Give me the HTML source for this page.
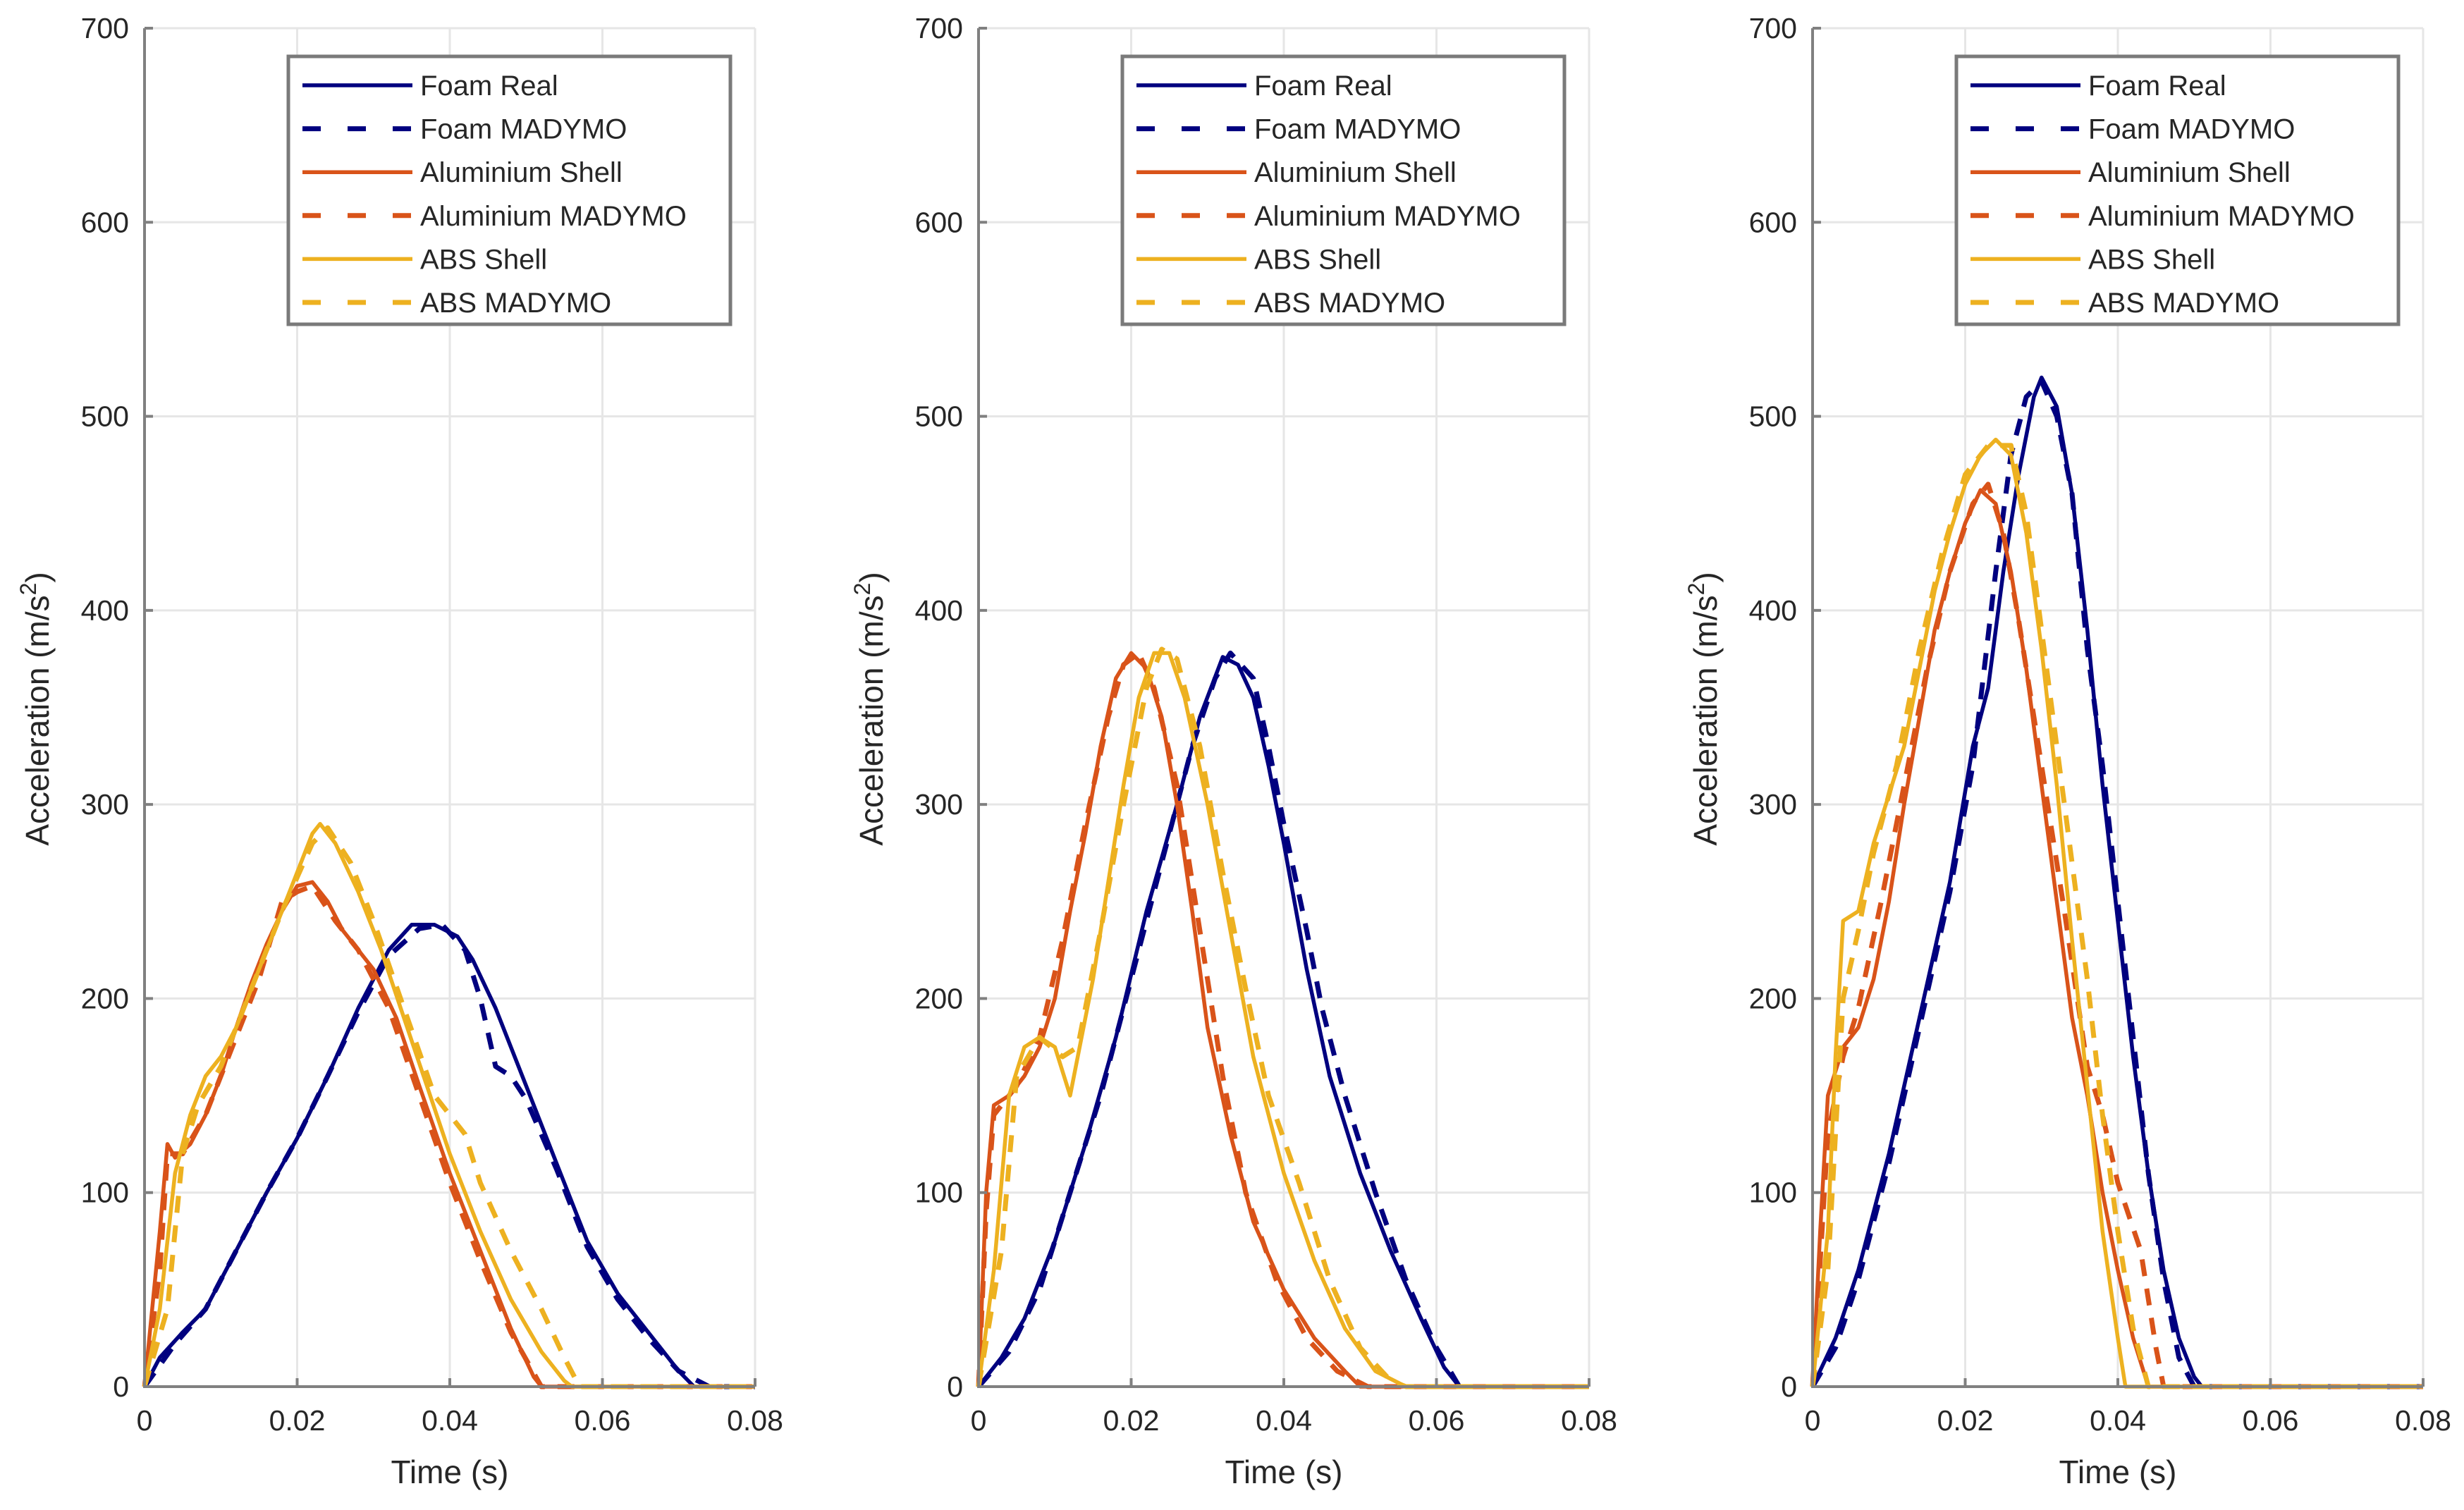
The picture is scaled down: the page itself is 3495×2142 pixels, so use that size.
<!DOCTYPE html>
<html><head><meta charset="utf-8"><style>
html,body{margin:0;padding:0;background:#fff;}
svg{display:block;font-family:"Liberation Sans",sans-serif;}
</style></head><body>
<svg id="chart" width="3495" height="2142" viewBox="0 0 3495 2142" xmlns="http://www.w3.org/2000/svg"></svg>
<script>
const xTicks = [0, 0.02, 0.04, 0.06, 0.08];
const xTickLabels = ["0", "0.02", "0.04", "0.06", "0.08"];
const yTicks = [0, 100, 200, 300, 400, 500, 600, 700];
const seriesNames = ["Foam Real", "Foam MADYMO", "Aluminium Shell", "Aluminium MADYMO", "ABS Shell", "ABS MADYMO"];
const seriesColors = ["#00007f", "#00007f", "#d95319", "#d95319", "#edb120", "#edb120"];
const seriesDashed = [false, true, false, true, false, true];

const p1FoamReal = [[0,0],[0.002,15],[0.005,28],[0.008,40],[0.012,70],[0.016,100],[0.02,128],[0.024,160],[0.028,195],[0.032,225],[0.035,238],[0.038,238],[0.041,232],[0.043,220],[0.046,195],[0.05,155],[0.054,115],[0.058,75],[0.062,48],[0.066,28],[0.07,8],[0.072,0],[0.08,0]];
const p1FoamMad = [[0,0],[0.004,22],[0.008,40],[0.012,70],[0.016,100],[0.02,128],[0.024,160],[0.028,193],[0.032,222],[0.036,236],[0.039,238],[0.042,225],[0.044,200],[0.046,165],[0.048,160],[0.05,148],[0.054,112],[0.058,72],[0.062,45],[0.066,25],[0.07,8],[0.074,0],[0.08,0]];
const p1AlShell = [[0,0],[0.002,80],[0.003,125],[0.004,118],[0.006,125],[0.008,140],[0.01,160],[0.012,185],[0.014,208],[0.016,228],[0.018,245],[0.02,258],[0.022,260],[0.024,250],[0.026,235],[0.028,225],[0.03,215],[0.033,190],[0.036,155],[0.04,110],[0.044,70],[0.048,30],[0.051,5],[0.052,0],[0.08,0]];
const p1AlMad = [[0,0],[0.002,60],[0.003,120],[0.005,120],[0.008,140],[0.012,180],[0.015,210],[0.018,250],[0.02,255],[0.022,258],[0.025,240],[0.028,225],[0.032,195],[0.036,150],[0.04,105],[0.044,65],[0.048,28],[0.052,0],[0.08,0]];
const p1AbsShell = [[0,0],[0.002,40],[0.004,110],[0.006,140],[0.008,160],[0.01,170],[0.012,185],[0.014,205],[0.016,225],[0.018,245],[0.02,265],[0.022,285],[0.023,290],[0.025,280],[0.028,255],[0.031,225],[0.034,190],[0.037,155],[0.04,120],[0.044,80],[0.048,45],[0.052,18],[0.055,3],[0.056,0],[0.08,0]];
const p1AbsMad = [[0,0],[0.003,40],[0.005,120],[0.007,145],[0.01,165],[0.014,205],[0.018,245],[0.022,280],[0.024,288],[0.027,270],[0.03,240],[0.034,195],[0.038,150],[0.042,130],[0.044,105],[0.048,70],[0.052,40],[0.055,15],[0.057,0],[0.08,0]];

const p2FoamReal = [[0,0],[0.003,15],[0.006,35],[0.01,75],[0.014,125],[0.018,180],[0.022,245],[0.026,300],[0.029,345],[0.032,376],[0.034,372],[0.036,355],[0.038,320],[0.04,280],[0.043,215],[0.046,160],[0.05,110],[0.054,70],[0.058,35],[0.061,10],[0.063,0],[0.08,0]];
const p2FoamMad = [[0,0],[0.004,18],[0.008,50],[0.012,100],[0.016,150],[0.02,210],[0.024,270],[0.028,330],[0.031,365],[0.033,378],[0.036,365],[0.038,330],[0.04,290],[0.043,235],[0.045,195],[0.048,150],[0.052,100],[0.056,55],[0.06,20],[0.063,0],[0.08,0]];
const p2AlShell = [[0,0],[0.001,100],[0.002,145],[0.004,150],[0.006,160],[0.008,175],[0.01,200],[0.012,245],[0.014,285],[0.016,330],[0.018,365],[0.02,378],[0.022,370],[0.024,345],[0.026,300],[0.028,245],[0.03,185],[0.033,130],[0.036,85],[0.04,50],[0.044,25],[0.048,8],[0.05,0],[0.08,0]];
const p2AlMad = [[0,0],[0.001,90],[0.002,140],[0.005,155],[0.008,180],[0.011,230],[0.014,290],[0.017,345],[0.019,372],[0.021,378],[0.023,360],[0.026,310],[0.029,235],[0.032,160],[0.035,100],[0.039,55],[0.043,25],[0.047,8],[0.051,0],[0.08,0]];
const p2AbsShell = [[0,0],[0.002,60],[0.004,150],[0.006,175],[0.008,180],[0.01,175],[0.012,150],[0.013,170],[0.015,210],[0.017,260],[0.019,310],[0.021,355],[0.023,378],[0.025,378],[0.027,355],[0.03,300],[0.033,235],[0.036,170],[0.04,110],[0.044,65],[0.048,30],[0.052,8],[0.056,0],[0.08,0]];
const p2AbsMad = [[0,0],[0.003,70],[0.005,160],[0.008,180],[0.011,170],[0.013,175],[0.016,235],[0.019,300],[0.022,360],[0.024,380],[0.026,375],[0.029,330],[0.032,265],[0.035,205],[0.038,150],[0.042,105],[0.046,55],[0.05,20],[0.054,3],[0.056,0],[0.08,0]];

const p3FoamReal = [[0,0],[0.003,25],[0.006,60],[0.01,120],[0.014,190],[0.018,260],[0.021,330],[0.023,360],[0.025,420],[0.027,470],[0.029,510],[0.03,520],[0.032,505],[0.034,460],[0.036,390],[0.038,310],[0.04,240],[0.042,170],[0.044,110],[0.046,60],[0.048,25],[0.05,5],[0.051,0],[0.08,0]];
const p3FoamMad = [[0,0],[0.003,20],[0.006,55],[0.01,115],[0.014,185],[0.018,255],[0.021,320],[0.024,420],[0.026,480],[0.028,510],[0.03,518],[0.032,500],[0.034,460],[0.036,380],[0.038,320],[0.04,250],[0.042,180],[0.044,110],[0.046,55],[0.048,15],[0.05,0],[0.08,0]];
const p3AlShell = [[0,0],[0.001,80],[0.002,150],[0.004,175],[0.006,185],[0.008,210],[0.01,250],[0.012,300],[0.014,345],[0.016,390],[0.018,420],[0.02,445],[0.022,462],[0.024,455],[0.026,420],[0.028,370],[0.03,310],[0.032,250],[0.034,190],[0.036,150],[0.038,100],[0.04,60],[0.042,25],[0.044,0],[0.08,0]];
const p3AlMad = [[0,0],[0.002,130],[0.004,170],[0.006,195],[0.009,250],[0.012,310],[0.015,370],[0.018,420],[0.021,455],[0.023,465],[0.025,440],[0.027,395],[0.03,320],[0.033,245],[0.036,165],[0.038,140],[0.04,105],[0.043,70],[0.045,20],[0.046,0],[0.08,0]];
const p3AbsShell = [[0,0],[0.002,80],[0.003,170],[0.004,240],[0.006,245],[0.008,280],[0.01,305],[0.012,330],[0.014,370],[0.016,410],[0.018,440],[0.02,465],[0.022,480],[0.024,488],[0.026,480],[0.028,440],[0.03,380],[0.032,310],[0.034,230],[0.036,155],[0.038,80],[0.04,25],[0.041,0],[0.08,0]];
const p3AbsMad = [[0,0],[0.002,60],[0.004,200],[0.006,235],[0.008,275],[0.011,320],[0.014,380],[0.017,430],[0.02,470],[0.023,485],[0.026,485],[0.028,450],[0.03,390],[0.033,300],[0.036,210],[0.038,140],[0.04,80],[0.042,30],[0.044,0],[0.08,0]];

const panels = [
  [p1FoamReal, p1FoamMad, p1AlShell, p1AlMad, p1AbsShell, p1AbsMad],
  [p2FoamReal, p2FoamMad, p2AlShell, p2AlMad, p2AbsShell, p2AbsMad],
  [p3FoamReal, p3FoamMad, p3AlShell, p3AlMad, p3AbsShell, p3AbsMad]
];

const NS = "http://www.w3.org/2000/svg";
const svgRoot = document.getElementById("chart");
function mk(tag, attrs, parent) {
  const e = document.createElementNS(NS, tag);
  for (const k in attrs) e.setAttribute(k, attrs[k]);
  (parent || svgRoot).appendChild(e);
  return e;
}
const panelLeft = [205, 1388, 2571];
const plotW = 866, plotTop = 40, plotBottom = 1967;
const xMax = 0.08, yMax = 700;

panels.forEach((series, pi) => {
  const L = panelLeft[pi];
  const xs = v => L + v / xMax * plotW;
  const ys = v => plotBottom - v / yMax * (plotBottom - plotTop);
  const g = mk("g", {});
  
  
  xTicks.forEach(t => {
    const l = mk("line", {x1: xs(t), x2: xs(t), y1: plotTop, y2: plotBottom, stroke: "#e6e6e6", "stroke-width": 3}, g);
    
    
  });
  yTicks.forEach(t => {
    const l = mk("line", {x1: L, x2: L + plotW, y1: ys(t), y2: ys(t), stroke: "#e6e6e6", "stroke-width": 3}, g);
    
    
  });
  series.forEach((pts, si) => {
    const d = pts.map((p, i) => (i ? "L" : "M") + xs(p[0]).toFixed(1) + "," + ys(p[1]).toFixed(1)).join(" ");
    const attrs = {d: d, fill: "none", stroke: seriesColors[si], "stroke-width": seriesDashed[si] ? 7 : 5.5, "stroke-linejoin": "round"};
    if (seriesDashed[si]) attrs["stroke-dasharray"] = "24 18";
    const p = mk("path", attrs, g);
    
    
  });
  const ax = mk("path", {d: `M${L},${plotTop} L${L},${plotBottom} L${L + plotW},${plotBottom}`, fill: "none", stroke: "#808080", "stroke-width": 4}, g);
  
  
  xTicks.forEach((t, i) => {
    mk("line", {x1: xs(t), x2: xs(t), y1: plotBottom, y2: plotBottom - 12, stroke: "#808080", "stroke-width": 4}, g);
    const tx = mk("text", {x: xs(t), y: plotBottom + 62, "font-size": 41, fill: "#262626", "text-anchor": "middle"}, g);
    tx.textContent = xTickLabels[i];
    
    
  });
  yTicks.forEach(t => {
    mk("line", {x1: L, x2: L + 12, y1: ys(t), y2: ys(t), stroke: "#808080", "stroke-width": 4}, g);
    const tx = mk("text", {x: L - 22, y: ys(t) + 14, "font-size": 41, fill: "#262626", "text-anchor": "end"}, g);
    tx.textContent = String(t);
    
    
  });
  const xl = mk("text", {x: L + plotW / 2, y: 2104, "font-size": 46, fill: "#262626", "text-anchor": "middle"}, g);
  xl.textContent = "Time (s)";
  
  
  const yl = mk("text", {x: 0, y: 0, "font-size": 46, fill: "#262626", "text-anchor": "middle", transform: `translate(${L - 136},${(plotTop + plotBottom) / 2 + 2}) rotate(-90)`}, g);
  yl.textContent = "Acceleration (m/s";
  const sup = mk("tspan", {dy: -18, "font-size": 32}, yl);
  sup.textContent = "2";
  const close = mk("tspan", {dy: 18}, yl);
  close.textContent = ")";
  
  
  const lx = L + 204, ly = 80;
  const lg = mk("g", {}, g);
  
  
  mk("rect", {x: lx, y: ly, width: 627, height: 380, fill: "#fff", stroke: "#7a7a7a", "stroke-width": 5}, lg);
  seriesNames.forEach((n, si) => {
    const ry = 121 + si * 61.6;
    const a = {x1: lx + 20, x2: lx + 176, y1: ry, y2: ry, stroke: seriesColors[si], "stroke-width": seriesDashed[si] ? 7 : 5.5};
    if (seriesDashed[si]) a["stroke-dasharray"] = "26 38";
    mk("line", a, lg);
    const t = mk("text", {x: lx + 187, y: ry + 14, "font-size": 40, fill: "#262626"}, lg);
    t.textContent = n;
    
    
  });
});
</script>
</body></html>
